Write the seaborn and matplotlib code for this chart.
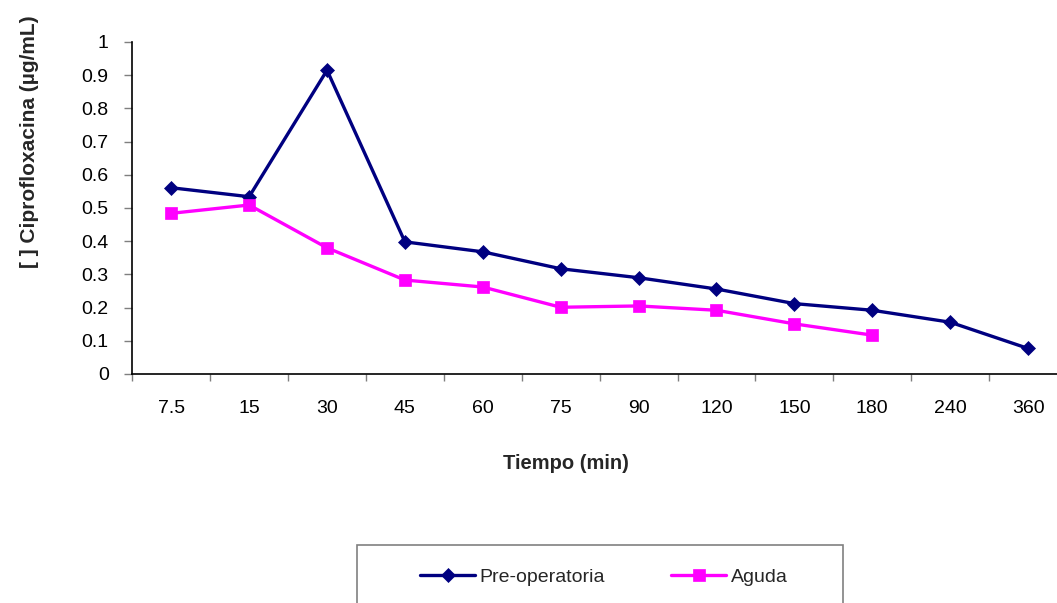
import numpy as np
import pandas as pd
import matplotlib
matplotlib.use("Agg")
import matplotlib.pyplot as plt
from matplotlib.patches import Rectangle
import seaborn as sns

tiempos = ["7.5", "15", "30", "45", "60", "75", "90", "120", "150", "180", "240", "360"]
pre_operatoria = [0.561, 0.534, 0.915, 0.398, 0.368, 0.317, 0.290, 0.256, 0.212, 0.192, 0.156, 0.077]
aguda = [0.484, 0.509, 0.380, 0.283, 0.262, 0.201, 0.205, 0.192, 0.151, 0.117, np.nan, np.nan]
series = ["Pre-operatoria", "Aguda"]
colors = ["#000080", "#FF00FF"]

df = pd.DataFrame({
    "tiempo": tiempos * 2,
    "conc": pre_operatoria + aguda,
    "serie": [series[0]] * len(tiempos) + [series[1]] * len(tiempos),
}).dropna()
df["tiempo"] = pd.Categorical(df["tiempo"], categories=tiempos, ordered=True)

sns.set_theme(style="white")
plt.rcParams["font.family"] = ["Liberation Sans", "DejaVu Sans"]

fig = plt.figure(figsize=(10.57, 6.03), dpi=100)
ax = fig.add_axes([132.3 / 1057, 1 - 374 / 603, (1067 - 132.3) / 1057, (374 - 42) / 603])

sns.lineplot(data=df, x="tiempo", y="conc", hue="serie", style="serie",
             hue_order=series, style_order=series, palette=colors,
             markers=["D", "s"], dashes=False, linewidth=2.4, legend=False,
             ax=ax, clip_on=False)

msizes = [7.2, 9.2]
for line, ms in zip(ax.lines, msizes):
    line.set_markersize(ms)
    line.set_markeredgewidth(0.5)
    line.set_markeredgecolor(line.get_color())

ax.set_xlim(-0.5, len(tiempos) - 0.5)
ax.set_ylim(0, 1)
ax.set_yticks(np.arange(0, 1.01, 0.1))
ax.set_yticklabels(["0", "0.1", "0.2", "0.3", "0.4", "0.5", "0.6", "0.7", "0.8", "0.9", "1"])
ax.set_xticks(range(len(tiempos)))
ax.set_xticklabels(tiempos)
ax.set_xticks(np.arange(-0.5, len(tiempos), 1), minor=True)
ax.tick_params(axis="x", which="major", length=0, pad=18.5, labelsize=14, labelcolor="black")
ax.tick_params(axis="x", which="minor", length=5, width=1, color="#7f7f7f", direction="out", bottom=True)
ax.tick_params(axis="y", which="major", length=6, width=1, color="#7f7f7f", direction="out",
               pad=11, labelsize=14, labelcolor="black", left=True)

for s in ["top", "right"]:
    ax.spines[s].set_visible(False)
for s in ["left", "bottom"]:
    ax.spines[s].set_color("black")
    ax.spines[s].set_linewidth(1.2)

ax.set_xlabel("Tiempo (min)", fontsize=14.5, fontweight="bold")
ax.set_ylabel("[ ] Ciprofloxacina (µg/mL)", fontsize=15, fontweight="bold")
ax.xaxis.set_label_coords((565.5 - 132.3) / (1067 - 132.3), (374 - 454) / 332)
ax.yaxis.set_label_coords((39 - 132.3) / (1067 - 132.3), (374 - 142) / 332)

# legend frame
fig.patches.append(Rectangle((357 / 1057, 1 - 613 / 603), 486 / 1057, 68 / 603,
                             transform=fig.transFigure, fill=False,
                             edgecolor="#808080", linewidth=1.2))
leg = fig.legend(handles=list(ax.lines), labels=series, loc="center",
                 bbox_to_anchor=(604 / 1057, 1 - 577 / 603), ncol=2, frameon=False,
                 fontsize=14, handlelength=2.8, handletextpad=0.25, columnspacing=3.4)

fig.savefig("out.png", dpi=100)
